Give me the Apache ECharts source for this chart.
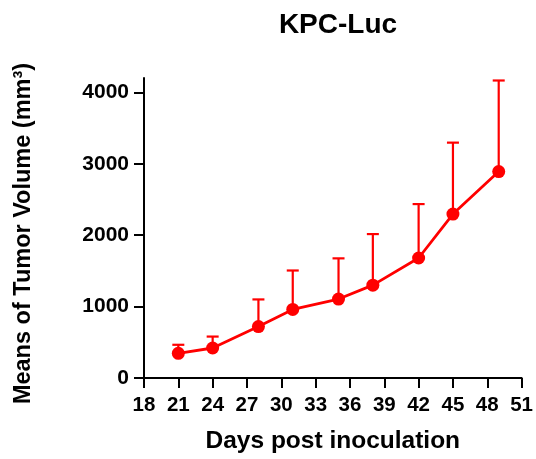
<!DOCTYPE html>
<html>
<head>
<meta charset="utf-8">
<script src="https://cdn.jsdelivr.net/npm/echarts@6/dist/echarts.min.js"></script>
<style>html,body{margin:0;padding:0;background:#fff}#c{width:536px;height:459px}</style>
</head>
<body>
<div id="c"></div>
<script>
const days = [21, 24, 28, 31, 35, 38, 42, 45, 49];
const means = [345, 420, 720, 960, 1105, 1300, 1680, 2295, 2890];
const sd = [120, 160, 380, 545, 570, 715, 755, 1000, 1275];
const xTicks = [18, 21, 24, 27, 30, 33, 36, 39, 42, 45, 48, 51];
const yTicks = [0, 1000, 2000, 3000, 4000];

const FONT = "'Liberation Sans', Arial, sans-serif";
const RED = '#ff0000';
const chart = echarts.init(document.getElementById('c'));
const linePts = days.map((d, i) => [d, means[i]]);
const errPts = days.map((d, i) => [d, means[i], means[i] + sd[i]]);

chart.setOption({
  animation: false,
  title: {
    text: 'KPC-Luc', left: 333, top: 6, textAlign: 'center',
    textStyle: { fontFamily: FONT, fontWeight: 'bold', fontSize: 28, color: '#000' }
  },
  grid: { left: 144, right: 13, top: 78, bottom: 80 },
  xAxis: {
    type: 'value', min: 18, max: 51, interval: 3,
    name: 'Days post inoculation', nameLocation: 'middle', nameGap: 51,
    nameTextStyle: { fontFamily: FONT, fontWeight: 'bold', fontSize: 24.5, color: '#000' },
    axisLine: { show: true, onZero: false, lineStyle: { color: '#000', width: 2 } },
    axisTick: { show: true, inside: false, length: 10, lineStyle: { color: '#000', width: 2 }, customValues: xTicks },
    axisLabel: { fontFamily: FONT, fontWeight: 'bold', fontSize: 20.5, color: '#000', margin: 17, customValues: xTicks,
      formatter: function (v) { return String(v); } },
    splitLine: { show: false }
  },
  yAxis: {
    type: 'value', min: 0, max: 4200,
    name: 'Means of Tumor Volume (mm³)', nameLocation: 'middle', nameGap: 108,
    nameTextStyle: { fontFamily: FONT, fontWeight: 'bold', fontSize: 23.5, color: '#000', padding: [0, 11, 0, 0] },
    axisLine: { show: true, onZero: false, lineStyle: { color: '#000', width: 2 } },
    axisTick: { show: true, inside: false, length: 10, lineStyle: { color: '#000', width: 2 }, customValues: yTicks },
    axisLabel: { fontFamily: FONT, fontWeight: 'bold', fontSize: 21, color: '#000', margin: 15, customValues: yTicks,
      formatter: function (v) { return String(v); } },
    splitLine: { show: false }
  },
  series: [
    {
      type: 'custom',
      data: errPts,
      z: 1,
      renderItem: function (params, api) {
        const x = api.value(0);
        const p0 = api.coord([x, api.value(1)]);
        const p1 = api.coord([x, api.value(2)]);
        const hw = 6;
        const style = { stroke: RED, lineWidth: 2.2, fill: null };
        return {
          type: 'group',
          children: [
            { type: 'line', shape: { x1: p0[0], y1: p0[1], x2: p1[0], y2: p1[1] }, style: style },
            { type: 'line', shape: { x1: p1[0] - hw, y1: p1[1], x2: p1[0] + hw, y2: p1[1] }, style: style }
          ]
        };
      }
    },
    {
      type: 'line',
      data: linePts,
      z: 2,
      symbol: 'circle', symbolSize: 13,
      lineStyle: { color: RED, width: 2.8 },
      itemStyle: { color: RED }
    }
  ]
});
</script>
</body>
</html>
